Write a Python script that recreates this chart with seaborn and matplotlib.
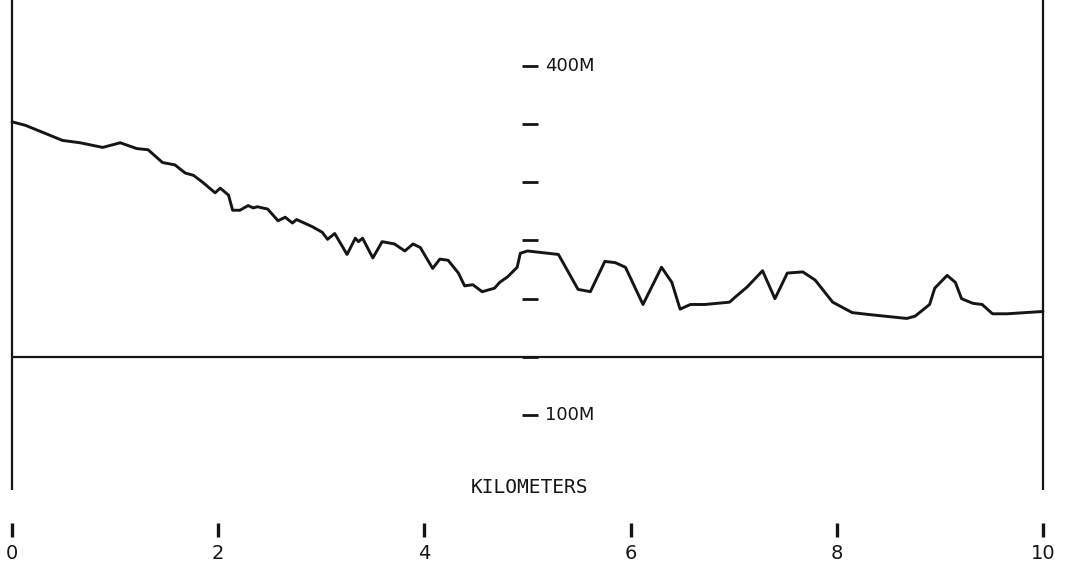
import matplotlib
matplotlib.use("Agg")
import matplotlib.pyplot as plt
import seaborn as sns
import pandas as pd

# Terrain profile: distance along the line (km) and elevation (m)
distance_km = [
    0.00, 0.13, 0.49, 0.66, 0.88, 1.05, 1.21, 1.32, 1.46, 1.58,
    1.68, 1.76, 1.85, 1.97, 2.02, 2.10, 2.14, 2.21, 2.29, 2.34,
    2.38, 2.48, 2.58, 2.65, 2.72, 2.76, 2.91, 3.01, 3.06, 3.13,
    3.25, 3.33, 3.36, 3.40, 3.50, 3.59, 3.71, 3.81, 3.89, 3.96,
    4.08, 4.15, 4.23, 4.33, 4.39, 4.47, 4.56, 4.68, 4.73, 4.81,
    4.90, 4.93, 5.00, 5.30, 5.49, 5.61, 5.75, 5.85, 5.95, 6.12,
    6.30, 6.40, 6.48, 6.58, 6.72, 6.96, 7.01, 7.13, 7.28, 7.40,
    7.52, 7.67, 7.79, 7.96, 8.15, 8.35, 8.68, 8.76, 8.90, 8.95,
    9.07, 9.15, 9.21, 9.32, 9.41, 9.51, 9.65, 10.00,
]
elevation_m = [
    352, 349, 336, 334, 330, 334, 329, 328, 317, 315,
    308, 306, 300, 291, 295, 289, 276, 276, 280, 278,
    279, 277, 267, 270, 265, 268, 262, 257, 251, 256,
    238, 252, 249, 252, 235, 249, 247, 241, 247, 244,
    226, 234, 233, 222, 211, 212, 206, 209, 214, 219,
    227, 239, 241, 238, 208, 206, 232, 231, 227, 195,
    227, 214, 191, 195, 195, 197, 201, 210, 224, 200,
    222, 223, 216, 197, 188, 186, 183, 185, 195, 209,
    220, 214, 200, 196, 195, 187, 187, 189,
]

# Elevation scale (m) and baseline
scale_ticks_m = [100, 150, 200, 250, 300, 350, 400]
scale_labels = {400: "400M", 100: "100M"}
baseline_m = 150

# Distance scale
km_ticks = [0, 2, 4, 6, 8, 10]
km_labels = ["0", "2", "4", "6", "8", "10"]
axis_title = "KILOMETERS"

sns.set_style("white")
plt.rcParams["font.family"] = ["DejaVu Sans"]

fig = plt.figure(figsize=(10.67, 5.65), dpi=100)
ax = fig.add_axes([0, 0, 1, 1])
ax.set_xlim(-0.1164, 10.2328)
ax.set_ylim(-28.9, 456.7)
ax.axis("off")

ink = "#151515"

profile = pd.DataFrame({"km": distance_km, "m": elevation_m})
sns.lineplot(data=profile, x="km", y="m", color=ink, linewidth=2.1,
             estimator=None, sort=False, ax=ax)

# Frame: side posts and baseline
ax.vlines([0, 10], 35.5, 470, color=ink, linewidth=1.6, clip_on=False)
ax.hlines(baseline_m, 0, 10, color=ink, linewidth=1.6)

# Elevation scale in the middle of the profile
ax.hlines(scale_ticks_m, 4.95, 5.10, color=ink, linewidth=2.0)
for val, lab in scale_labels.items():
    ax.text(5.17, val, lab, ha="left", va="center", fontsize=13,
            color=ink, fontweight="medium")

# Distance axis title and ticks
ax.text(5.02, 37.5, axis_title, ha="center", va="center", fontsize=14,
        color=ink, fontfamily="DejaVu Sans Mono")
ax.vlines(km_ticks, -4.9, 7.2, color=ink, linewidth=2.4)
for k, lab in zip(km_ticks, km_labels):
    ax.text(k, -18.6, lab, ha="center", va="center", fontsize=14,
            color=ink)

fig.savefig("out.png", dpi=100, facecolor="white")
